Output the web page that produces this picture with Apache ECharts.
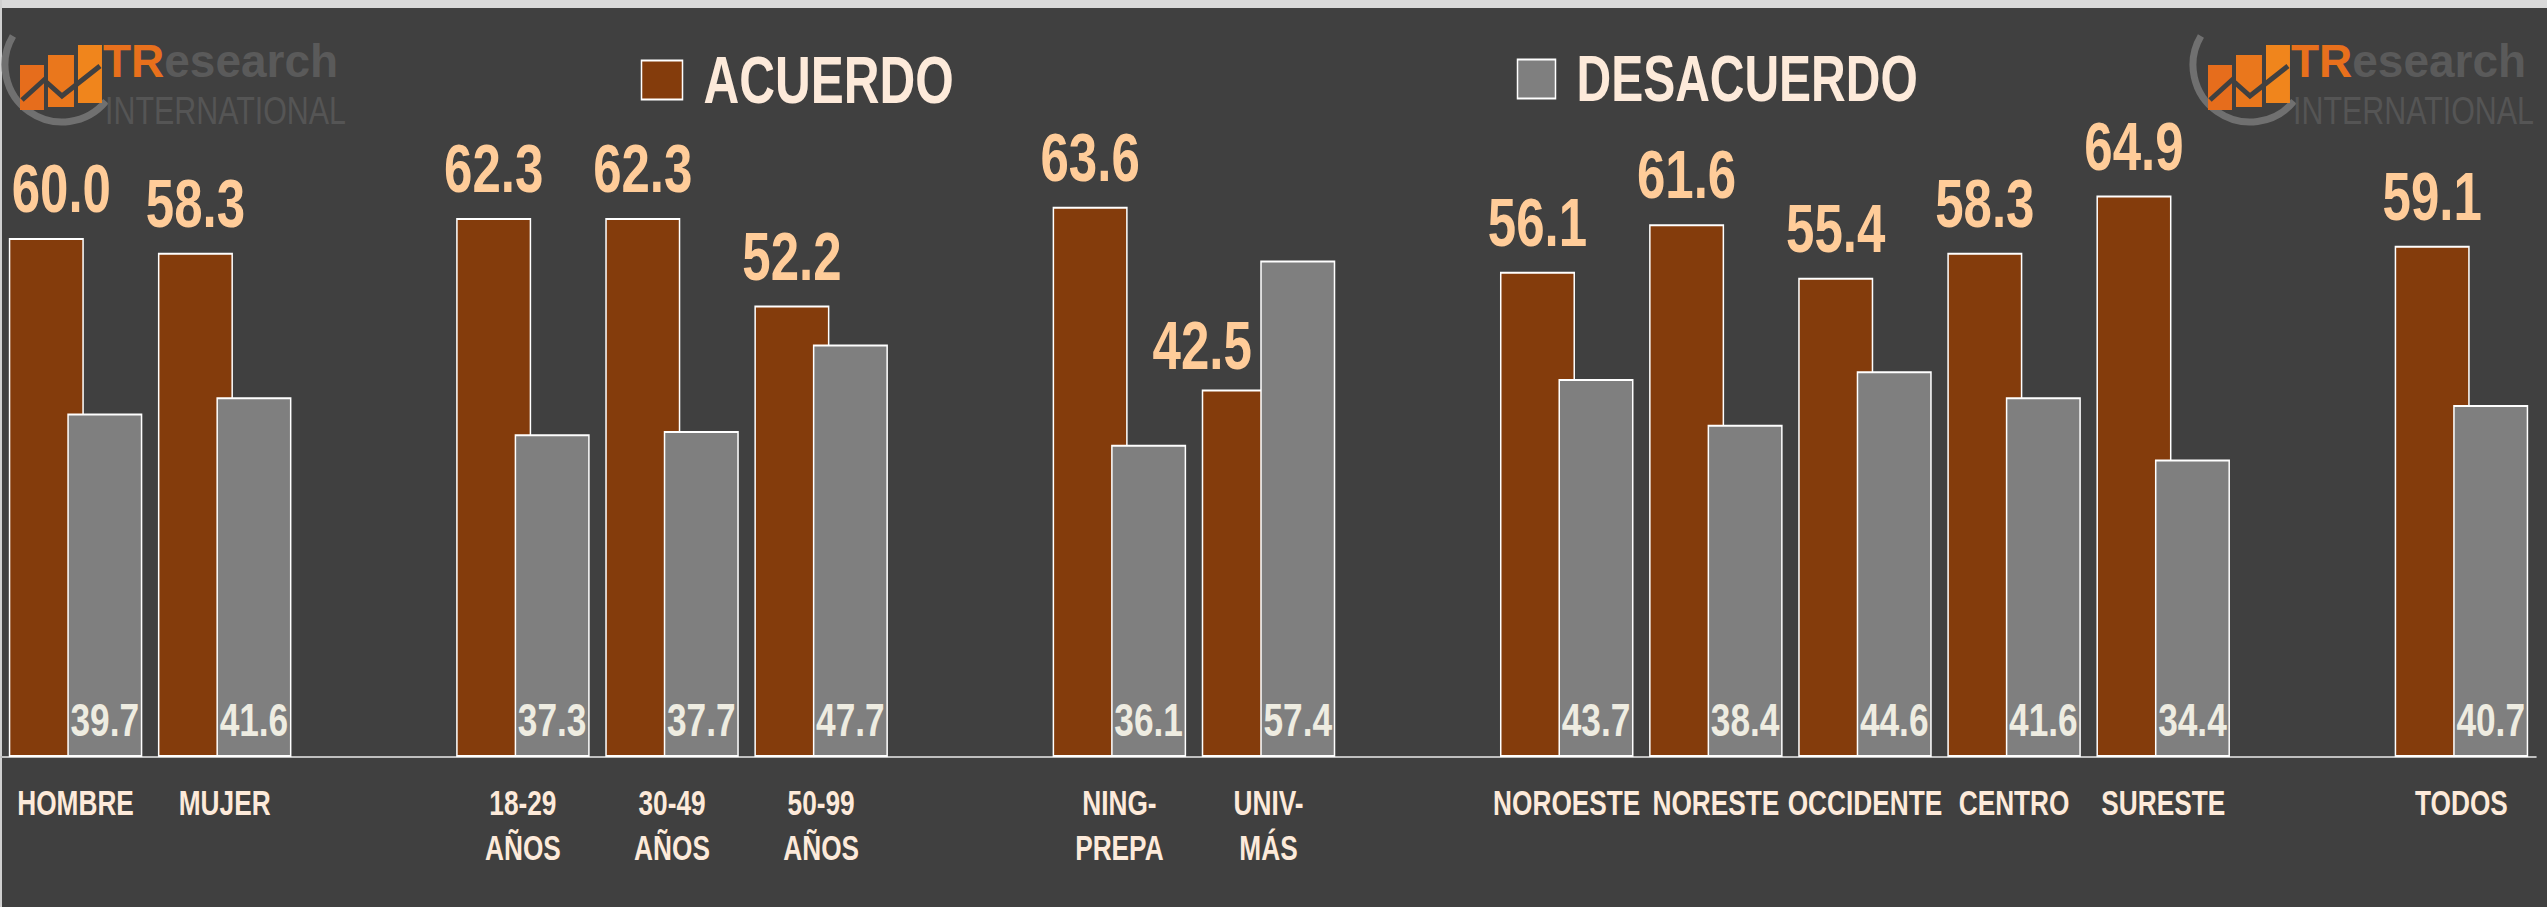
<!DOCTYPE html>
<html>
<head>
<meta charset="utf-8">
<script src="https://cdn.jsdelivr.net/npm/echarts@6/dist/echarts.min.js"></script>
<style>
  html, body { margin: 0; padding: 0; background: #404040; overflow: hidden; }
  /* the original uses a very condensed face, so the whole chart is drawn wider and squeezed back */
  #chart { width: 3396px; height: 907px; transform: scaleX(0.75); transform-origin: 0 0; }
</style>
</head>
<body>
<div id="chart"></div>
<script>
var categories = ['HOMBRE', 'MUJER', '', '18-29\nAÑOS', '30-49\nAÑOS', '50-99\nAÑOS', '',
    'NING-\nPREPA', 'UNIV-\nMÁS', '', 'NOROESTE', 'NORESTE', 'OCCIDENTE', 'CENTRO', 'SURESTE', '', 'TODOS'];
var acuerdo = [60.0, 58.3, null, 62.3, 62.3, 52.2, null, 63.6, 42.5, null, 56.1, 61.6, 55.4, 58.3, 64.9, null, 59.1];
var desacuerdo = [39.7, 41.6, null, 37.3, 37.7, 47.7, null, 36.1, 57.4, null, 43.7, 38.4, 44.6, 41.6, 34.4, null, 40.7];
var seriesNames = ['ACUERDO', 'DESACUERDO'];

var SX = 0.75;   // horizontal squeeze, same as the css
var font = '"Liberation Sans", Arial, sans-serif';

// logo (decoration only), drawn in page pixels
function logo(x0) {
    return {
        type: 'group',
        x: x0 / SX,
        y: 0,
        scaleX: 1 / SX,
        children: [
            { type: 'arc', shape: { cx: 60, cy: 65, r: 57, startAngle: Math.PI * 0.22, endAngle: Math.PI * 1.17 },
              style: { stroke: '#707070', lineWidth: 7, fill: null } },
            { type: 'rect', shape: { x: 18, y: 65, width: 24, height: 45 },
              style: { fill: '#e66d1c' } },
            { type: 'rect', shape: { x: 46, y: 55, width: 26, height: 52 },
              style: { fill: '#ea771c' } },
            { type: 'rect', shape: { x: 76, y: 45, width: 24, height: 58 },
              style: { fill: '#f0851c' } },
            { type: 'polyline', shape: { points: [[20, 100], [42, 80], [60, 96], [98, 66]] },
              style: { stroke: '#404040', lineWidth: 5, fill: null } },
            { type: 'text', x: 101, y: 38,
              style: { text: '{a|TR}{b|esearch}', rich: {
                  a: { fill: '#e8701c', fontSize: 46, fontWeight: 'bold', fontFamily: font },
                  b: { fill: '#5a5a5a', fontSize: 46, fontWeight: 'bold', fontFamily: font }
              } } },
            { type: 'text', x: 103, y: 92, scaleX: 0.8,
              style: { text: 'INTERNATIONAL', fill: '#555555', fontSize: 38, fontFamily: font } }
        ]
    };
}

var chart = echarts.init(document.getElementById('chart'), null, { renderer: 'svg' });

var labelFmt = function (p) { return p.value == null ? '' : p.value.toFixed(1); };

// a couple of labels were nudged by hand in the original
var labelNudge = { 0: [15, 0], 8: [-37, 5] };

var option = {
    backgroundColor: '#404040',
    animation: false,
    graphic: [
        { type: 'rect', x: 0, y: 0, shape: { width: 2547 / SX, height: 8 }, style: { fill: '#d9d9d9' } },
        { type: 'rect', x: 0, y: 0, shape: { width: 2 / SX, height: 907 }, style: { fill: '#d0d0d0' } },
        logo(2),
        logo(2190)
    ],
    legend: [{
        data: [seriesNames[0]],
        left: 637 / SX,
        top: 42,
        icon: 'rect',
        itemWidth: 41 / SX,
        itemHeight: 39,
        textStyle: { color: '#fdeada', fontSize: 66, fontWeight: 'bold', fontFamily: font, padding: [0, 0, 0, 23] }
    }, {
        data: [seriesNames[1]],
        left: 1513 / SX,
        top: 42,
        icon: 'rect',
        itemWidth: 38 / SX,
        itemHeight: 39,
        textStyle: { color: '#fdeada', fontSize: 64, fontWeight: 'bold', fontFamily: font, padding: [0, 0, 0, 23] }
    }],
    grid: { left: 1 / SX, right: 11 / SX, top: 65, bottom: 150 },
    xAxis: {
        type: 'category',
        data: categories,
        axisLine: { lineStyle: { color: '#bfbfbf', width: 2 } },
        axisTick: { show: false },
        axisLabel: {
            color: '#fdeada',
            fontSize: 35,
            fontWeight: 'bold',
            fontFamily: font,
            lineHeight: 45,
            margin: 24,
            interval: 0
        }
    },
    yAxis: {
        type: 'value',
        min: 0,
        max: 80,
        show: false,
        splitLine: { show: false }
    },
    series: [{
        name: seriesNames[0],
        type: 'bar',
        barWidth: 75 / SX,
        barGap: '-22%',
        itemStyle: { color: '#843c0c', borderColor: '#ffffff', borderWidth: 2 },
        label: {
            show: true,
            position: 'top',
            distance: 15,
            color: '#ffcc99',
            fontSize: 68,
            fontWeight: 'bold',
            fontFamily: font,
            formatter: labelFmt
        },
        data: acuerdo.map(function (v, i) {
            var n = labelNudge[i];
            return n ? { value: v, label: { offset: [n[0] / SX, n[1]] } } : v;
        })
    }, {
        name: seriesNames[1],
        type: 'bar',
        barWidth: 75 / SX,
        itemStyle: { color: '#7f7f7f', borderColor: '#ffffff', borderWidth: 2 },
        label: {
            show: true,
            position: 'insideBottom',
            distance: 14,
            color: '#eeece1',
            fontSize: 47,
            fontWeight: 'bold',
            fontFamily: font,
            formatter: labelFmt
        },
        data: desacuerdo
    }]
};

chart.setOption(option);
</script>
</body>
</html>
